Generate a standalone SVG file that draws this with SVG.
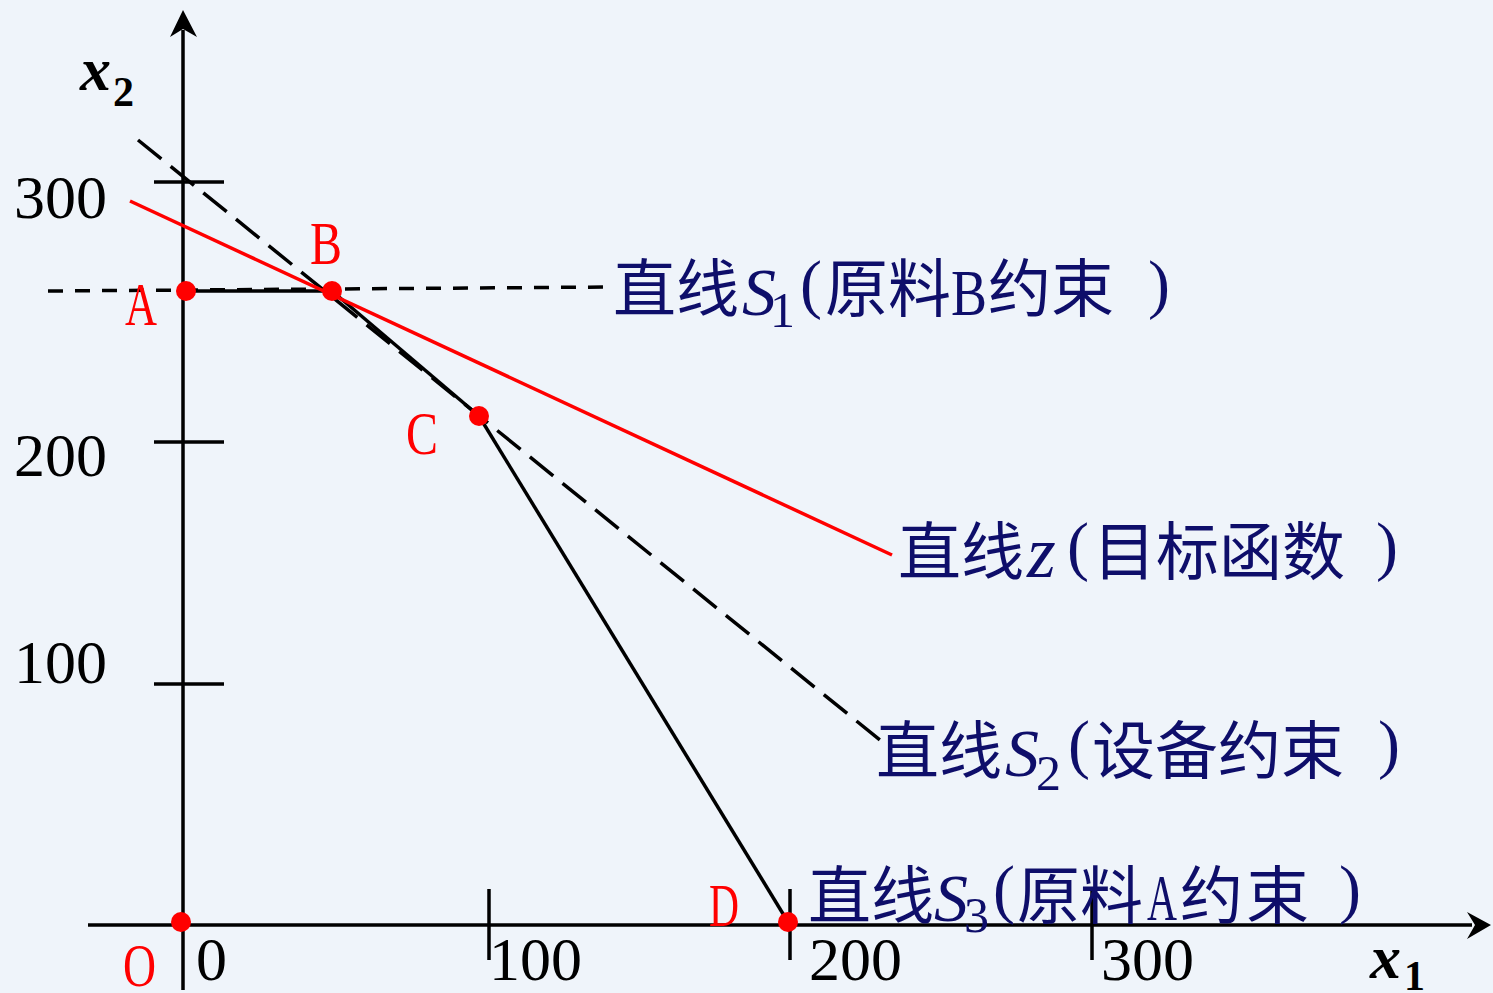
<svg xmlns="http://www.w3.org/2000/svg" width="1493" height="993" viewBox="0 0 1493 993">
<style>
.ax{stroke:#000;stroke-width:3.5;fill:none}
.ln{stroke:#000;stroke-width:3.5;fill:none}
.dash{stroke:#000;stroke-width:3.5;fill:none;stroke-dasharray:30 12}
.hdash{stroke:#000;stroke-width:3.5;fill:none;stroke-dasharray:15 12}
.red{stroke:#f00;stroke-width:3.5;fill:none}
.pt{fill:#f00}
.num{font-family:"Liberation Serif","Times New Roman",serif;font-size:62px;fill:#000}
.lab{font-family:"Liberation Serif","Times New Roman",serif;font-size:62px;fill:#f00}
.var{font-family:"Liberation Serif","Times New Roman",serif;font-weight:bold;fill:#000}
.cn{font-family:"Liberation Serif","Noto Sans CJK SC",serif;font-size:63px;fill:#0e0e6a}
.cjk{font-family:"Noto Sans CJK SC",sans-serif;font-size:63px}
.it{font-style:italic;font-size:68px}
.sub{font-size:50px}
.par{font-size:66px}
</style>
<rect width="1493" height="993" fill="#eff4fa"/>
<g id="axes">
<line class="ax" x1="88" y1="925" x2="1472" y2="925"/>
<path d="M1491,925 L1467,912 L1475,925 L1467,939 Z" fill="#000"/>
<line class="ax" x1="183" y1="990" x2="183" y2="30"/>
<path d="M183,10 L170,37 L183,29 L197,37 Z" fill="#000"/>
<line class="ax" x1="154" y1="182" x2="224" y2="182"/>
<line class="ax" x1="154" y1="442" x2="224" y2="442"/>
<line class="ax" x1="154" y1="684" x2="224" y2="684"/>
<line class="ax" x1="489" y1="889" x2="489" y2="960"/>
<line class="ax" x1="790" y1="889" x2="790" y2="960"/>
<line class="ax" x1="1092" y1="889" x2="1092" y2="960"/>
<text class="num" x="14" y="218">300</text>
<text class="num" x="14" y="476">200</text>
<text class="num" x="14" y="683">100</text>
<text class="num" x="196" y="980">0</text>
<text class="num" x="489" y="980">100</text>
<text class="num" x="809" y="980">200</text>
<text class="num" x="1101" y="980">300</text>
<text class="var" x="80" y="90" font-size="62" font-style="italic">x</text>
<text class="var" x="113" y="106" font-size="42">2</text>
<text class="var" x="1370" y="978" font-size="62" font-style="italic">x</text>
<text class="var" x="1404" y="990" font-size="42">1</text>
</g>
<g id="connectors">
<line class="hdash" x1="48" y1="291" x2="612" y2="287"/>
<line class="ln" x1="186" y1="291" x2="332" y2="291"/>
<line class="dash" x1="138" y1="140" x2="880" y2="740"/>
<line class="ln" x1="332" y1="291" x2="479" y2="416"/>
<line class="ln" x1="479" y1="416" x2="788" y2="922"/>
<line class="red" x1="130" y1="201" x2="892" y2="555"/>
</g>
<g id="node-O"><circle class="pt" cx="181" cy="922" r="10"/><text class="lab" x="123" y="986" textLength="33" lengthAdjust="spacingAndGlyphs">O</text></g>
<g id="node-A"><circle class="pt" cx="186" cy="291" r="10"/><text class="lab" x="125" y="325" textLength="32" lengthAdjust="spacingAndGlyphs">A</text></g>
<g id="node-B"><circle class="pt" cx="332" cy="291" r="10"/><text class="lab" x="310" y="264" textLength="32" lengthAdjust="spacingAndGlyphs">B</text></g>
<g id="node-C"><circle class="pt" cx="479" cy="416" r="10"/><text class="lab" x="406" y="454" textLength="32" lengthAdjust="spacingAndGlyphs">C</text></g>
<g id="node-D"><circle class="pt" cx="788" cy="922" r="10"/><text class="lab" x="709" y="926" textLength="30" lengthAdjust="spacingAndGlyphs">D</text></g>
<g id="label-S1">
<text class="cn" y="311"><tspan class="cjk" x="613">直线</tspan><tspan class="it" x="742" y="315">S</tspan><tspan class="sub" x="770" y="327">1</tspan><tspan class="par" x="800" y="306">(</tspan><tspan class="cjk" x="825" y="311">原料</tspan><tspan class="par" x="951" y="315" textLength="36" lengthAdjust="spacingAndGlyphs">B</tspan><tspan class="cjk" x="988" y="311">约束</tspan><tspan class="par" x="1148" y="306">)</tspan></text>
</g>
<g id="label-z">
<text class="cn" y="574"><tspan class="cjk" x="898">直线</tspan><tspan x="1027" y="577" font-style="italic" font-size="74">z</tspan><tspan class="par" x="1067" y="568">(</tspan><tspan class="cjk" x="1093" y="574">目标函数</tspan><tspan class="par" x="1376" y="568">)</tspan></text>
</g>
<g id="label-S2">
<text class="cn" y="773"><tspan class="cjk" x="876">直线</tspan><tspan class="it" x="1005" y="776">S</tspan><tspan class="sub" x="1036" y="790">2</tspan><tspan class="par" x="1068" y="766">(</tspan><tspan class="cjk" x="1092" y="773">设备约束</tspan><tspan class="par" x="1378" y="766">)</tspan></text>
</g>
<g id="label-S3">
<text class="cn" y="918"><tspan class="cjk" x="808">直线</tspan><tspan class="it" x="934" y="921">S</tspan><tspan class="sub" x="964" y="932">3</tspan><tspan class="par" x="993" y="911">(</tspan><tspan class="cjk" x="1017" y="918">原料</tspan><tspan class="par" x="1147" y="920" textLength="30" lengthAdjust="spacingAndGlyphs">A</tspan><tspan class="cjk" x="1180" y="918">约</tspan><tspan class="cjk" x="1246" y="918">束</tspan><tspan class="par" x="1339" y="911">)</tspan></text>
</g>
</svg>
